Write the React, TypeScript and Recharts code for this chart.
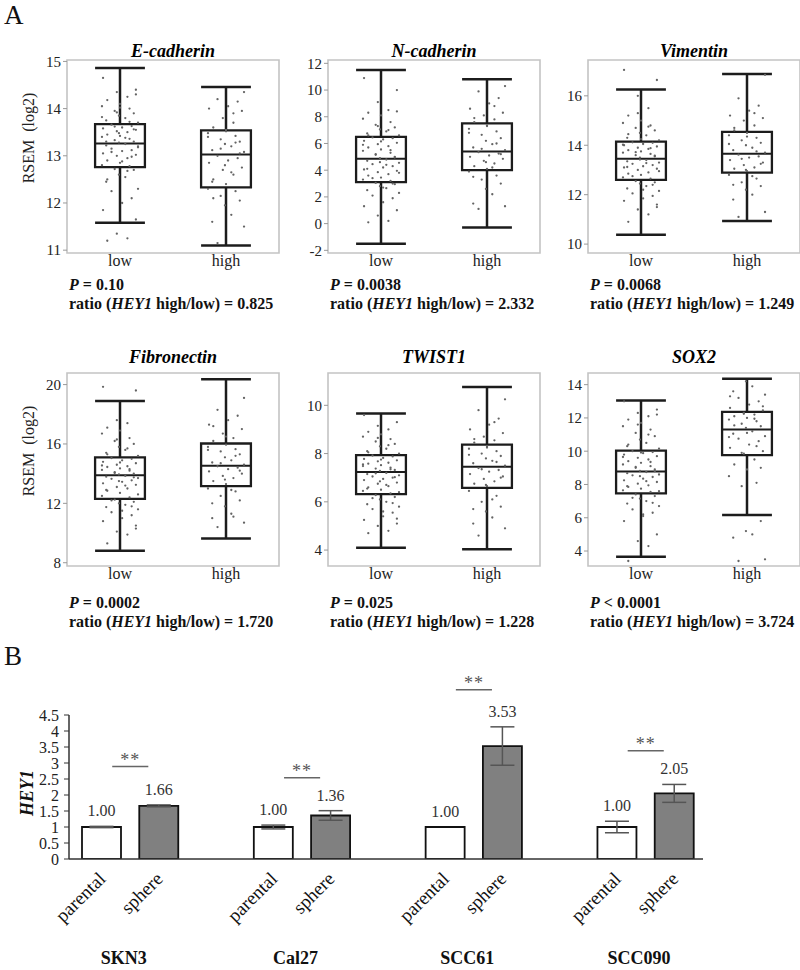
import React from "react"
import {
  ComposedChart,
  BarChart,
  Bar,
  Scatter,
  XAxis,
  YAxis,
  ReferenceArea,
  ReferenceLine,
  ErrorBar,
  LabelList,
  Cell,
} from "recharts"

const FONT = '"Liberation Serif", "Times New Roman", serif'

// ---- panel A: expression by HEY1 group ----
const groups = ["low", "high"]

// box stats: [lower whisker, Q1, median, Q3, upper whisker]
const eCadLowBox = [11.58, 12.76, 13.26, 13.67, 14.86]
const eCadHighBox = [11.1, 12.33, 13.03, 13.54, 14.46]
const eCadLowPts = [11.2, 11.25, 11.35, 11.65, 11.85, 12.0, 12.1, 12.25, 12.3, 12.45, 12.55, 12.6, 12.7, 12.72, 12.78, 12.8, 12.85, 12.9, 12.95, 13.0, 13.02, 13.05, 13.1, 13.12, 13.15, 13.2, 13.22, 13.25, 13.28, 13.3, 13.33, 13.36, 13.4, 13.42, 13.45, 13.5, 13.52, 13.55, 13.58, 13.6, 13.63, 13.66, 13.7, 13.75, 13.8, 13.85, 13.9, 13.95, 14.0, 14.05, 14.1, 14.18, 14.25, 14.35, 14.4, 14.65, 12.88, 12.98, 13.08, 13.18, 13.3, 13.38, 13.48, 13.56, 13.62, 13.72, 13.82, 14.02, 12.5, 12.68, 13.92, 14.3]
const eCadHighPts = [11.15, 11.5, 11.6, 11.75, 11.95, 12.05, 12.15, 12.25, 12.3, 12.4, 12.5, 12.6, 12.7, 12.75, 12.85, 12.9, 12.95, 13.0, 13.08, 13.12, 13.2, 13.25, 13.3, 13.35, 13.42, 13.48, 13.52, 13.6, 13.7, 13.8, 13.95, 14.0, 14.05, 14.15, 14.2, 14.35, 12.45, 12.65, 12.8, 13.05, 13.15, 13.28, 13.4, 13.55, 12.1, 13.9]

const nCadLowBox = [-1.5, 3.1, 4.85, 6.5, 11.5]
const nCadHighBox = [-0.3, 4.0, 5.4, 7.5, 10.8]
const nCadLowPts = [0.1, 0.2, 0.6, 1.0, 1.3, 1.6, 1.9, 2.1, 2.3, 2.5, 2.65, 2.8, 2.95, 3.05, 3.2, 3.3, 3.45, 3.6, 3.7, 3.85, 3.95, 4.05, 4.2, 4.3, 4.45, 4.55, 4.7, 4.8, 4.9, 5.0, 5.15, 5.3, 5.45, 5.55, 5.7, 5.8, 5.95, 6.05, 6.2, 6.3, 6.4, 6.45, 6.6, 6.75, 6.9, 7.05, 7.2, 7.4, 7.6, 7.85, 8.1, 8.3, 8.5, 9.1, 10.0, 10.9, 2.7, 3.0, 3.4, 3.8, 4.1, 4.4, 4.6, 4.95, 5.2, 5.5, 5.9, 6.15, 6.6, 7.0, 7.3, 8.4]
const nCadHighPts = [1.1, 1.3, 1.5, 2.2, 2.6, 3.0, 3.3, 3.6, 3.9, 4.1, 4.3, 4.5, 4.7, 4.85, 5.0, 5.1, 5.25, 5.35, 5.5, 5.7, 5.95, 6.2, 6.4, 6.65, 6.9, 7.1, 7.35, 7.6, 7.8, 8.1, 8.3, 8.6, 9.0, 9.4, 9.9, 10.3, 3.5, 4.2, 4.6, 5.2, 5.6, 6.0, 6.8, 7.3, 7.9, 8.8]

const vimLowBox = [10.38, 12.6, 13.45, 14.15, 16.26]
const vimHighBox = [10.93, 12.89, 13.66, 14.54, 16.88]
const vimLowPts = [10.9, 11.2, 11.4, 11.6, 11.75, 11.85, 11.95, 12.05, 12.15, 12.25, 12.35, 12.45, 12.5, 12.55, 12.65, 12.7, 12.8, 12.85, 12.9, 13.0, 13.05, 13.1, 13.15, 13.2, 13.25, 13.3, 13.35, 13.4, 13.5, 13.55, 13.6, 13.65, 13.7, 13.75, 13.8, 13.85, 13.9, 13.95, 14.0, 14.05, 14.1, 14.12, 14.2, 14.3, 14.4, 14.5, 14.6, 14.7, 14.8, 14.9, 15.0, 15.2, 15.5, 16.0, 16.64, 17.05, 12.2, 12.4, 12.75, 12.95, 13.12, 13.28, 13.42, 13.58, 13.72, 13.88, 14.02, 14.25, 14.45, 14.75, 15.3, 11.5]
const vimHighPts = [11.1, 11.3, 11.8, 12.0, 12.2, 12.35, 12.5, 12.65, 12.8, 12.95, 13.05, 13.1, 13.2, 13.3, 13.4, 13.5, 13.55, 13.62, 13.7, 13.8, 13.9, 14.0, 14.1, 14.2, 14.3, 14.4, 14.5, 14.6, 14.8, 15.0, 15.1, 15.2, 15.4, 15.6, 15.9, 16.85, 12.4, 12.75, 13.0, 13.25, 13.45, 13.75, 14.05, 14.35, 14.7, 15.3]

const fibLowBox = [8.8, 12.3, 13.9, 15.1, 18.9]
const fibHighBox = [9.64, 13.16, 14.53, 16.03, 20.36]
const fibLowPts = [9.3, 9.9, 10.1, 10.5, 10.8, 11.0, 11.2, 11.4, 11.6, 11.75, 11.9, 12.0, 12.1, 12.25, 12.4, 12.5, 12.7, 12.85, 13.0, 13.1, 13.25, 13.35, 13.45, 13.55, 13.65, 13.7, 13.8, 13.85, 13.95, 14.0, 14.1, 14.2, 14.25, 14.35, 14.45, 14.5, 14.6, 14.7, 14.8, 14.9, 15.0, 15.05, 15.2, 15.4, 15.6, 15.8, 16.0, 16.2, 16.4, 16.7, 16.9, 17.1, 17.4, 17.6, 19.6, 19.85, 11.5, 11.8, 12.2, 12.6, 12.9, 13.2, 13.5, 13.75, 14.05, 14.3, 14.55, 14.75, 15.3, 15.7, 16.3, 10.3]
const fibHighPts = [10.4, 10.7, 11.0, 11.3, 11.8, 12.2, 12.5, 12.8, 13.0, 13.3, 13.5, 13.7, 13.85, 14.0, 14.15, 14.3, 14.4, 14.5, 14.6, 14.75, 14.9, 15.1, 15.3, 15.5, 15.65, 15.8, 15.95, 16.2, 16.4, 16.7, 17.0, 17.3, 17.6, 17.9, 18.3, 19.1, 12.0, 12.9, 13.6, 14.2, 14.7, 15.2, 15.6, 16.5, 17.2, 11.1]

const twLowBox = [4.1, 6.32, 7.24, 7.94, 9.66]
const twHighBox = [4.03, 6.58, 7.45, 8.37, 10.76]
const twLowPts = [4.7, 4.8, 5.0, 5.1, 5.25, 5.4, 5.55, 5.7, 5.8, 5.9, 6.0, 6.1, 6.2, 6.28, 6.35, 6.45, 6.5, 6.6, 6.65, 6.75, 6.8, 6.9, 6.95, 7.0, 7.05, 7.1, 7.15, 7.2, 7.28, 7.32, 7.38, 7.42, 7.48, 7.52, 7.58, 7.62, 7.68, 7.72, 7.78, 7.82, 7.88, 7.92, 8.0, 8.1, 8.2, 8.3, 8.4, 8.5, 8.6, 8.7, 8.8, 8.9, 9.0, 9.15, 9.3, 9.6, 5.6, 5.95, 6.15, 6.4, 6.55, 6.7, 6.85, 7.02, 7.18, 7.35, 7.55, 7.75, 8.05, 8.35, 8.65, 5.3]
const twHighPts = [4.6, 4.9, 5.1, 5.35, 5.6, 5.8, 6.0, 6.25, 6.45, 6.65, 6.75, 6.85, 6.95, 7.05, 7.15, 7.25, 7.32, 7.4, 7.5, 7.6, 7.7, 7.8, 7.9, 8.0, 8.1, 8.2, 8.3, 8.45, 8.55, 8.7, 8.85, 9.0, 9.2, 9.45, 9.8, 10.25, 5.7, 6.1, 6.7, 7.0, 7.35, 7.65, 7.95, 8.25, 8.6, 9.3]

const soxLowBox = [3.66, 7.46, 8.78, 10.04, 13.04]
const soxHighBox = [6.16, 9.76, 11.3, 12.36, 14.36]
const soxLowPts = [3.4, 4.3, 4.6, 5.0, 5.8, 6.1, 6.3, 6.5, 6.7, 6.85, 7.0, 7.15, 7.3, 7.4, 7.55, 7.65, 7.75, 7.85, 7.95, 8.05, 8.15, 8.25, 8.35, 8.45, 8.55, 8.6, 8.68, 8.75, 8.82, 8.9, 9.0, 9.1, 9.2, 9.3, 9.4, 9.5, 9.6, 9.7, 9.8, 9.88, 9.95, 10.0, 10.15, 10.3, 10.5, 10.7, 10.9, 11.1, 11.3, 11.5, 11.7, 11.9, 12.1, 12.3, 12.5, 13.0, 6.2, 6.9, 7.2, 7.6, 7.9, 8.2, 8.5, 8.8, 9.05, 9.35, 9.65, 9.92, 10.4, 11.0, 11.6, 12.2]
const soxHighPts = [3.4, 3.5, 4.8, 5.0, 5.2, 5.8, 7.9, 8.1, 8.5, 8.9, 9.2, 9.5, 9.85, 10.0, 10.2, 10.4, 10.6, 10.75, 10.9, 11.05, 11.2, 11.4, 11.5, 11.65, 11.8, 11.9, 12.0, 12.1, 12.2, 12.3, 12.45, 12.6, 12.8, 13.0, 13.2, 13.4, 13.6, 13.9, 14.2, 9.0, 9.9, 10.3, 10.85, 11.1, 11.55, 11.95, 12.25, 12.7, 13.3]

const panels = [
  { gene: "E-cadherin", domain: [10.94, 15.03], ticks: [11, 12, 13, 14, 15], boxes: [eCadLowBox, eCadHighBox], pts: [eCadLowPts, eCadHighPts], p: "= 0.10", ratio: "0.825" },
  { gene: "N-cadherin", domain: [-2.2, 12.25], ticks: [-2, 0, 2, 4, 6, 8, 10, 12], boxes: [nCadLowBox, nCadHighBox], pts: [nCadLowPts, nCadHighPts], p: "= 0.0038", ratio: "2.332" },
  { gene: "Vimentin", domain: [9.64, 17.45], ticks: [10, 12, 14, 16], boxes: [vimLowBox, vimHighBox], pts: [vimLowPts, vimHighPts], p: "= 0.0068", ratio: "1.249" },
  { gene: "Fibronectin", domain: [7.78, 20.78], ticks: [8, 12, 16, 20], boxes: [fibLowBox, fibHighBox], pts: [fibLowPts, fibHighPts], p: "= 0.0002", ratio: "1.720" },
  { gene: "TWIST1", domain: [3.34, 11.34], ticks: [4, 6, 8, 10], boxes: [twLowBox, twHighBox], pts: [twLowPts, twHighPts], p: "= 0.025", ratio: "1.228" },
  { gene: "SOX2", domain: [3.1, 14.7], ticks: [4, 6, 8, 10, 12, 14], boxes: [soxLowBox, soxHighBox], pts: [soxLowPts, soxHighPts], p: "< 0.0001", ratio: "3.724" },
]

// ---- panel B: HEY1 in parental vs sphere cells ----
const cellLines = ["SKN3", "Cal27", "SCC61", "SCC090"]
const conditions = ["parental", "sphere"]
const hey1Parental = [1.0, 1.0, 1.0, 1.0]
const hey1Sphere = [1.66, 1.36, 3.53, 2.05]
const hey1ParentalErr = [0.02, 0.06, 0.0, 0.18]
const hey1SphereErr = [0.03, 0.15, 0.6, 0.28]
const sigLineLevel = [2.89, 2.54, 5.29, 3.38]
const hey1Ticks = [0, 0.5, 1, 1.5, 2, 2.5, 3, 3.5, 4, 4.5]

// layout
const AXIS_W = 67
const FRAME_W = 212
const FRAME_H = 193
const TOP_PAD = 10
const BOX_HW = 0.235
const JITTER = [-0.12, 0.07, -0.03, 0.15, -0.16, 0.02, 0.11, -0.08, 0.17, -0.13, 0.05, -0.01, 0.13, -0.05, 0.09, -0.17, 0.0]
const colLefts = [67, 328, 588]
const rowLayout = [
  { frameTop: 60, titleTop: 42, pTop: 275 },
  { frameTop: 373, titleTop: 348, pTop: 593 },
]
const LINE = "#1c1c1c"

const dot = (props: any) => (
  <circle cx={props.cx} cy={props.cy} r={1.15} fill="#646464" />
)

function BoxPanel({ panel, col, row }: { panel: any; col: number; row: number }) {
  const frameLeft = colLefts[col]
  const { frameTop, titleTop, pTop } = rowLayout[row]
  const points = panel.pts.flatMap((vals: number[], g: number) =>
    vals.map((v, i) => ({ x: g + 0.5 + JITTER[(i + g * 7) % JITTER.length], y: v }))
  )
  const [d0, d1] = panel.domain

  return (
    <>
      <div
        style={{
          position: "absolute",
          left: frameLeft,
          top: titleTop,
          width: FRAME_W,
          textAlign: "center",
          fontFamily: FONT,
          fontSize: 18,
          lineHeight: "18px",
          fontWeight: "bold",
          fontStyle: "italic",
        }}
      >
        {panel.gene}
      </div>
      {col === 0 && (
        <div
          style={{
            position: "absolute",
            left: 29,
            top: frameTop + FRAME_H / 2 - 19,
            transform: "translate(-50%, -50%) rotate(-90deg)",
            fontFamily: FONT,
            fontSize: 16,
            lineHeight: "16px",
            whiteSpace: "pre",
            color: "#222",
          }}
        >
          {"RSEM  (log2)"}
        </div>
      )}
      <div style={{ position: "absolute", left: frameLeft - AXIS_W, top: frameTop - TOP_PAD }}>
        <ComposedChart
          width={AXIS_W + FRAME_W + 4}
          height={FRAME_H + 28 + TOP_PAD}
          margin={{ top: TOP_PAD, right: 4, bottom: 0, left: 0 }}
        >
          <XAxis
            type="number"
            dataKey="x"
            domain={[0, 2]}
            ticks={[0.5, 1.5]}
            tickFormatter={(v: number) => groups[Math.floor(v)]}
            axisLine={false}
            tickLine={false}
            tickSize={0}
            tickMargin={2}
            height={28}
            interval={0}
            tick={{ fontSize: 16, fill: "#222", fontFamily: FONT }}
          />
          <YAxis
            type="number"
            dataKey="y"
            domain={panel.domain}
            ticks={panel.ticks}
            allowDataOverflow
            interval={0}
            width={AXIS_W}
            axisLine={false}
            tickLine={{ stroke: "#999" }}
            tickSize={4}
            tickMargin={2}
            tick={{ fontSize: 15, fill: "#222", fontFamily: FONT }}
          />
          <ReferenceArea
            x1={0}
            x2={2}
            y1={d0}
            y2={d1}
            fill="none"
            stroke="#c4c4c4"
            strokeWidth={1.6}
            ifOverflow="visible"
          />
          <Scatter data={points} shape={dot} isAnimationActive={false} />
          {panel.boxes.map((b: number[], g: number) => {
            const c = g + 0.5
            const [lo, q1, med, q3, hi] = b
            return (
              <React.Fragment key={g}>
                <ReferenceArea x1={c - BOX_HW} x2={c + BOX_HW} y1={q1} y2={q3} fill="none" stroke={LINE} strokeWidth={2.3} />
                <ReferenceLine segment={[{ x: c - BOX_HW, y: med }, { x: c + BOX_HW, y: med }]} stroke={LINE} strokeWidth={2} />
                <ReferenceLine segment={[{ x: c, y: q3 }, { x: c, y: hi }]} stroke={LINE} strokeWidth={2.5} />
                <ReferenceLine segment={[{ x: c, y: lo }, { x: c, y: q1 }]} stroke={LINE} strokeWidth={2.5} />
                <ReferenceLine segment={[{ x: c - BOX_HW, y: hi }, { x: c + BOX_HW, y: hi }]} stroke={LINE} strokeWidth={2.5} />
                <ReferenceLine segment={[{ x: c - BOX_HW, y: lo }, { x: c + BOX_HW, y: lo }]} stroke={LINE} strokeWidth={2.5} />
              </React.Fragment>
            )
          })}
        </ComposedChart>
      </div>
      <div
        style={{
          position: "absolute",
          left: frameLeft + 2,
          top: pTop,
          fontFamily: FONT,
          fontSize: 16,
          lineHeight: "19px",
          fontWeight: "bold",
          whiteSpace: "nowrap",
          color: "#111",
        }}
      >
        <div>
          <i>P</i> {panel.p}
        </div>
        <div>
          ratio (<i>HEY1</i> high/low) = {panel.ratio}
        </div>
      </div>
    </>
  )
}

const barRows = cellLines.flatMap((line, i) => {
  const r: any[] = [
    { key: `${line}|${conditions[0]}`, line, cond: conditions[0], v: hey1Parental[i], err: hey1ParentalErr[i] },
    { key: `${line}|${conditions[1]}`, line, cond: conditions[1], v: hey1Sphere[i], err: hey1SphereErr[i] },
  ]
  if (i < cellLines.length - 1) r.push({ key: `gap${i}` })
  return r
})

const BarTick = (props: any) => {
  const { x, y, payload } = props
  const row = barRows.find((r) => r.key === payload.value)
  if (!row || !row.cond) return <g />
  const ax = x + 5
  const ay = y + 21
  return (
    <g>
      <text
        x={ax}
        y={ay}
        textAnchor="end"
        transform={`rotate(-45, ${ax}, ${ay})`}
        fontSize={19}
        fontFamily={FONT}
        fill="#111"
      >
        {row.cond}
      </text>
      {row.cond === conditions[0] && (
        <text x={x + 22} y={y + 105} textAnchor="middle" fontSize={18} fontWeight="bold" fontFamily={FONT} fill="#111">
          {row.line}
        </text>
      )}
    </g>
  )
}

const ValueLabel = (props: any) => {
  const { x, y, width, height, value } = props
  const row = barRows.find((r) => r.key === value)
  if (!row || row.v == null) return null
  const ppu = height / row.v
  const top = y - (row.err || 0) * ppu
  return (
    <text x={x + width / 2} y={top - 10} textAnchor="middle" fontSize={16} fontFamily={FONT} fill="#333">
      {Number(row.v).toFixed(2)}
    </text>
  )
}

const SigMark = (props: any) => {
  const { x1, x2, y1 } = props
  const inset = (x2 - x1) * 0.185
  return (
    <g>
      <line x1={x1 + inset} x2={x2 - inset} y1={y1} y2={y1} stroke="#666" strokeWidth={1.5} />
      <text x={(x1 + x2) / 2} y={y1 - 1} textAnchor="middle" fontSize={18} fontFamily={FONT} fill="#555" letterSpacing={1}>
        **
      </text>
    </g>
  )
}

function Hey1Chart() {
  return (
    <div style={{ position: "absolute", left: 0, top: 640 }}>
      <BarChart
        width={720}
        height={330}
        data={barRows}
        margin={{ top: 75, right: 17, bottom: 0, left: 0 }}
      >
        <XAxis
          dataKey="key"
          interval={0}
          tick={<BarTick />}
          tickLine={false}
          tickSize={0}
          tickMargin={0}
          height={111}
          padding={{ left: 4, right: 0 }}
          axisLine={{ stroke: "#333", strokeWidth: 1.5 }}
        />
        <YAxis
          domain={[0, 4.5]}
          ticks={hey1Ticks}
          allowDataOverflow
          interval={0}
          width={69}
          axisLine={{ stroke: "#333", strokeWidth: 1.5 }}
          tickLine={{ stroke: "#333" }}
          tickSize={5}
          tickMargin={5}
          tick={{ fontSize: 16, fill: "#222", fontFamily: FONT }}
        />
        <Bar dataKey="v" barSize={39} stroke="#111" strokeWidth={1.8} isAnimationActive={false}>
          {barRows.map((r, i) => (
            <Cell key={i} fill={r.cond === conditions[1] ? "#808080" : "#ffffff"} />
          ))}
          <ErrorBar dataKey="err" width={12} stroke="#555" strokeWidth={1.5} />
          <LabelList dataKey="key" content={<ValueLabel />} />
        </Bar>
        {cellLines.map((line, i) => (
          <ReferenceLine
            key={line}
            segment={[
              { x: `${line}|${conditions[0]}`, y: sigLineLevel[i] },
              { x: `${line}|${conditions[1]}`, y: sigLineLevel[i] },
            ]}
            ifOverflow="visible"
            shape={<SigMark />}
          />
        ))}
      </BarChart>
    </div>
  )
}

export default function App() {
  return (
    <div
      style={{
        position: "absolute",
        left: 0,
        top: 0,
        width: 800,
        height: 970,
        background: "#fff",
        overflow: "hidden",
        fontFamily: FONT,
      }}
    >
      <div style={{ position: "absolute", left: 4, top: 2, fontSize: 27, lineHeight: "27px", color: "#111" }}>A</div>
      <div style={{ position: "absolute", left: 4, top: 643, fontSize: 27, lineHeight: "27px", color: "#111" }}>B</div>
      {panels.map((p, i) => (
        <BoxPanel key={p.gene} panel={p} col={i % 3} row={Math.floor(i / 3)} />
      ))}
      <div
        style={{
          position: "absolute",
          left: 27,
          top: 793,
          transform: "translate(-50%, -50%) rotate(-90deg)",
          fontSize: 18,
          lineHeight: "18px",
          fontWeight: "bold",
          fontStyle: "italic",
          color: "#111",
        }}
      >
        HEY1
      </div>
      <Hey1Chart />
    </div>
  )
}
